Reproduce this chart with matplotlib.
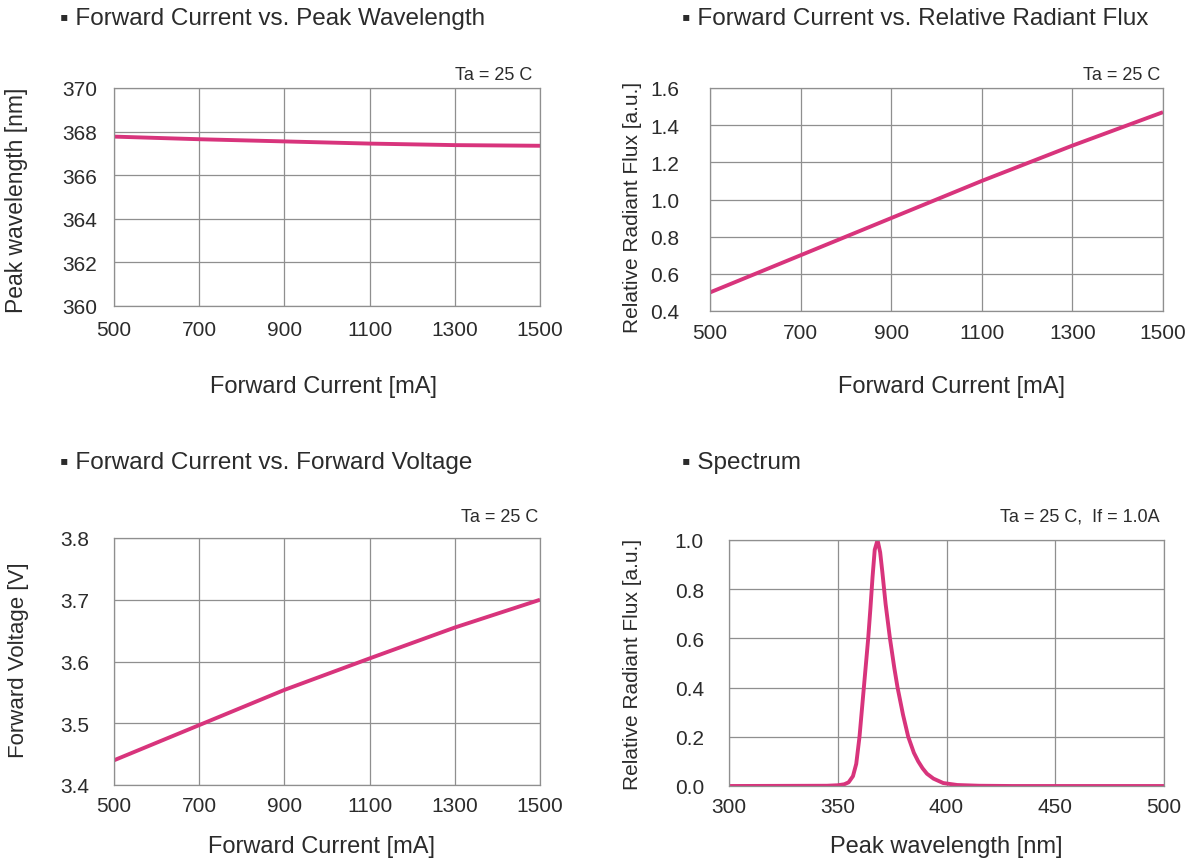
import matplotlib
matplotlib.use("Agg")
import matplotlib.pyplot as plt

plt.rcParams['font.family'] = ['Liberation Sans', 'DejaVu Sans']

# data
current_ma = [500, 700, 900, 1100, 1300, 1500]
peak_wl_nm = [367.77, 367.65, 367.55, 367.45, 367.38, 367.35]
rel_flux = [0.50, 0.70, 0.90, 1.10, 1.29, 1.47]
fwd_voltage = [3.44, 3.497, 3.554, 3.605, 3.655, 3.70]

spec_wl = [300, 345, 350, 353, 355, 357, 358.5, 360, 361, 362, 363, 364,
           365, 366, 367, 368.3, 369.5, 370.5, 372, 374, 376, 377.5, 380,
           382.4, 385, 387, 389, 391, 394, 398.5, 405, 415, 430, 500]
spec_flux = [0.0, 0.001, 0.003, 0.007, 0.015, 0.04, 0.09, 0.2, 0.3, 0.4,
             0.5, 0.6, 0.72, 0.85, 0.96, 1.0, 0.95, 0.87, 0.74, 0.6, 0.48,
             0.4, 0.29, 0.2, 0.135, 0.1, 0.072, 0.05, 0.03, 0.012, 0.004,
             0.001, 0.0, 0.0]

W, H = 1195, 862
LINE = '#d8347c'
GRID = '#8f8f8f'
TXT = '#2b2b2b'

fig = plt.figure(figsize=(W / 100, H / 100), dpi=100)


def px_axes(x0, y0, x1, y1):
    # pixel box (top-left origin) -> axes
    return fig.add_axes([x0 / W, 1 - y1 / H, (x1 - x0) / W, (y1 - y0) / H])


def ftext(x, y, s, **kw):
    fig.text(x / W, 1 - y / H, s, color=TXT, **kw)


def style(ax, xticks, yticks, ylabels, xpad, ypad):
    ax.set_xticks(xticks)
    ax.set_yticks(yticks)
    ax.set_yticklabels(ylabels)
    ax.set_xlim(xticks[0], xticks[-1])
    ax.set_ylim(yticks[0], yticks[-1])
    ax.grid(True, color=GRID, linewidth=0.9)
    ax.set_axisbelow(True)
    for sp in ax.spines.values():
        sp.set_color(GRID)
        sp.set_linewidth(0.9)
    ax.tick_params(axis='x', length=0, pad=xpad, labelsize=15, colors=TXT)
    ax.tick_params(axis='y', length=0, pad=ypad, labelsize=15, colors=TXT)


cur_ticks = [500, 700, 900, 1100, 1300, 1500]

# top left
ax1 = px_axes(114, 89, 540, 307)
ax1.plot(current_ma, peak_wl_nm, color=LINE, linewidth=2.8, solid_capstyle='butt')
style(ax1, cur_ticks, [360, 362, 364, 366, 368, 370],
      ['360', '362', '364', '366', '368', '370'], 10, 12)
ftext(60, 19, '▪ Forward Current vs. Peak Wavelength', fontsize=17.5, va='center')
ftext(532, 75, 'Ta = 25 C', fontsize=13, ha='right', va='center')
ftext(324, 387, 'Forward Current [mA]', fontsize=17, ha='center', va='center')
ftext(17, 200, 'Peak wavelength [nm]', fontsize=16.5, rotation=90, ha='center', va='center')

# top right
ax2 = px_axes(710, 89, 1163, 312)
ax2.plot(current_ma, rel_flux, color=LINE, linewidth=2.8, solid_capstyle='butt')
style(ax2, cur_ticks, [0.4, 0.6, 0.8, 1.0, 1.2, 1.4, 1.6],
      ['0.4', '0.6', '0.8', '1.0', '1.2', '1.4', '1.6'], 9, 22)
ftext(682, 19, '▪ Forward Current vs. Relative Radiant Flux', fontsize=17.5, va='center')
ftext(1160, 75, 'Ta = 25 C', fontsize=13, ha='right', va='center')
ftext(951, 387, 'Forward Current [mA]', fontsize=17, ha='center', va='center')
ftext(633, 207, 'Relative Radiant Flux [a.u.]', fontsize=15, rotation=90, ha='center', va='center')

# bottom left
ax3 = px_axes(114, 539, 540, 786)
ax3.plot(current_ma, fwd_voltage, color=LINE, linewidth=2.8, solid_capstyle='butt')
style(ax3, cur_ticks, [3.4, 3.5, 3.6, 3.7, 3.8],
      ['3.4', '3.5', '3.6', '3.7', '3.8'], 8, 18)
ftext(60, 463, '▪ Forward Current vs. Forward Voltage', fontsize=17.5, va='center')
ftext(538, 518, 'Ta = 25 C', fontsize=13, ha='right', va='center')
ftext(321, 847, 'Forward Current [mA]', fontsize=17, ha='center', va='center')
ftext(19, 660, 'Forward Voltage [V]', fontsize=16, rotation=90, ha='center', va='center')

# bottom right
ax4 = px_axes(729, 541, 1164, 787)
ax4.plot(spec_wl, spec_flux, color=LINE, linewidth=2.8)
style(ax4, [300, 350, 400, 450, 500], [0.0, 0.2, 0.4, 0.6, 0.8, 1.0],
      ['0.0', '0.2', '0.4', '0.6', '0.8', '1.0'], 8, 18)
ftext(682, 463, '▪ Spectrum', fontsize=17.5, va='center')
ftext(1160, 517, 'Ta = 25 C,  If = 1.0A', fontsize=13, ha='right', va='center')
ftext(946, 847, 'Peak wavelength [nm]', fontsize=17, ha='center', va='center')
ftext(632, 664, 'Relative Radiant Flux [a.u.]', fontsize=15, rotation=90, ha='center', va='center')

fig.savefig('out.png', dpi=100, facecolor='white')
